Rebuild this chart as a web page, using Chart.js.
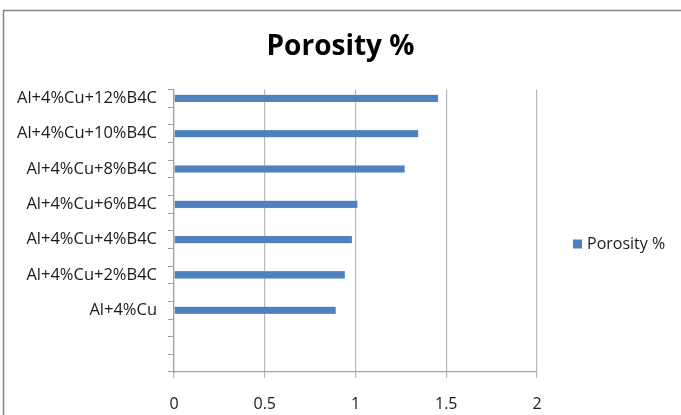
<!DOCTYPE html>
<html>
<head>
<meta charset="utf-8">
<script src="https://cdn.jsdelivr.net/npm/chart.js@4.4.1/dist/chart.umd.min.js"></script>
<style>
  html, body { margin: 0; padding: 0; background: #fff; }
  #wrap { width: 681px; height: 415px; }
</style>
</head>
<body>
<div id="wrap"><canvas id="porosityChart" width="681" height="415"></canvas></div>
<script>
// Categories top to bottom; blank entries are the empty rows of the sheet
const categories = [
    'Al+4%Cu+12%B4C', '',
    'Al+4%Cu+10%B4C', '',
    'Al+4%Cu+8%B4C', '',
    'Al+4%Cu+6%B4C', '',
    'Al+4%Cu+4%B4C', '',
    'Al+4%Cu+2%B4C', '',
    'Al+4%Cu', '', '', ''
];
const porosity = [
    1.455, null,
    1.345, null,
    1.27, null,
    1.01, null,
    0.98, null,
    0.94, null,
    0.89, null, null, null
];
const xTicks = [0, 0.5, 1, 1.5, 2];

const FONT = "'Open Sans', sans-serif";
const BAR_BLUE = '#4f81bd';

// outer frame of the chart object
const framePlugin = {
    id: 'frame',
    beforeDraw(chart) {
        const c = chart.ctx;
        c.save();
        c.fillStyle = '#ffffff';
        c.fillRect(0, 0, chart.width, chart.height);
        c.strokeStyle = '#868686';
        c.lineWidth = 1.5;
        c.strokeRect(3.5, 10.5, chart.width + 20, chart.height + 20);
        c.restore();
    }
};

// legend entry on the right side
const sideLegend = {
    id: 'sideLegend',
    afterDraw(chart) {
        const c = chart.ctx;
        const ds = chart.data.datasets[0];
        const x = chart.chartArea.right + 36;
        const y = 244;
        c.save();
        c.fillStyle = ds.backgroundColor;
        c.fillRect(x, y - 4.5, 9, 9);
        c.fillStyle = '#1a1a1a';
        c.font = '16px ' + FONT;
        c.textBaseline = 'middle';
        c.fillText(ds.label, x + 14, y);
        c.restore();
    }
};

new Chart(document.getElementById('porosityChart').getContext('2d'), {
    type: 'bar',
    data: {
        labels: categories,
        datasets: [{
            label: 'Porosity %',
            data: porosity,
            backgroundColor: BAR_BLUE,
            borderColor: '#7aa0d0',
            borderWidth: 0.5,
            barThickness: 7
        }]
    },
    options: {
        indexAxis: 'y',
        responsive: false,
        animation: false,
        devicePixelRatio: 1,
        layout: {
            padding: 0
        },
        scales: {
            x: {
                min: 0,
                max: 2,
                afterBuildTicks(scale) {
                    scale.ticks = xTicks.map(v => ({ value: v }));
                },
                afterFit(scale) { scale.height = 43; },
                ticks: {
                    color: '#1a1a1a',
                    font: { family: FONT, size: 16 },
                    padding: 17,
                    maxRotation: 0,
                    callback: v => String(v)
                },
                grid: {
                    color: '#b8b8b8',
                    lineWidth: 1.2,
                    tickLength: 6
                },
                border: { color: '#a0a0a0', width: 1.2 }
            },
            y: {
                afterFit(scale) { scale.width = 174; },
                ticks: {
                    autoSkip: false,
                    color: '#1a1a1a',
                    font: { family: FONT, size: 16.5 },
                    padding: 11
                },
                grid: {
                    offset: true,
                    drawOnChartArea: false,
                    color: '#a0a0a0',
                    tickLength: 6
                },
                border: { color: '#a0a0a0', width: 1.2 }
            },
            // empty strip on the right that holds the legend
            gutter: {
                type: 'linear',
                axis: 'y',
                position: 'right',
                afterFit(scale) { scale.width = 144; },
                ticks: { display: false },
                grid: { display: false, drawTicks: false },
                border: { display: false }
            }
        },
        plugins: {
            legend: { display: false },
            tooltip: { enabled: false },
            title: {
                display: true,
                text: 'Porosity %',
                color: '#000000',
                font: { family: FONT, size: 28, weight: 'bold' },
                padding: { top: 30, bottom: 26 }
            }
        }
    },
    plugins: [framePlugin, sideLegend]
});
</script>
</body>
</html>
